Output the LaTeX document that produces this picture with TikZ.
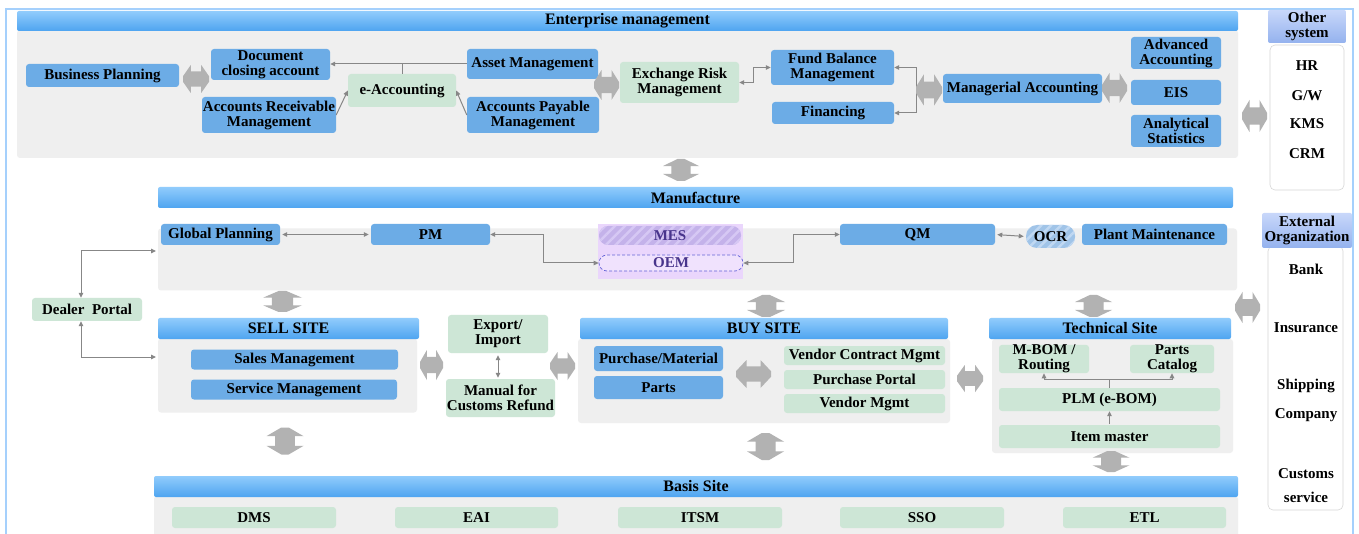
\documentclass[tikz,border=0pt]{standalone}
\usepackage{fontspec}
\setmainfont{Liberation Serif}
\usetikzlibrary{arrows.meta,patterns.meta,calc}
\definecolor{boxblue}{RGB}{108,172,230}
\definecolor{boxgreen}{RGB}{205,230,214}
\definecolor{panelgray}{RGB}{239,239,239}
\definecolor{bartop}{RGB}{145,204,252}
\definecolor{barbot}{RGB}{78,164,240}
\definecolor{bigarrow}{RGB}{178,178,178}
\definecolor{lncol}{RGB}{135,135,135}
\definecolor{frameblue}{RGB}{165,208,252}
\definecolor{hdrtop}{RGB}{200,215,250}
\definecolor{hdrbot}{RGB}{148,178,238}
\definecolor{lav}{RGB}{234,214,252}
\definecolor{mesfill}{RGB}{196,178,234}
\definecolor{meshatch}{RGB}{214,200,244}
\definecolor{oemfill}{RGB}{240,226,253}
\definecolor{oemline}{RGB}{100,100,215}
\definecolor{purtext}{RGB}{72,52,140}
\definecolor{ocrfill}{RGB}{160,196,232}
\definecolor{ocrhatch}{RGB}{192,216,242}
\definecolor{wboxline}{RGB}{215,215,215}

\newcommand{\hda}[4]{\fill[bigarrow,shift={(#1,#2)},xscale=#3,yscale=#4]
  (-0.5,-0.1) -- (-0.2,-0.5) -- (-0.2,-0.27) -- (0.2,-0.27) -- (0.2,-0.5) -- (0.5,-0.1) -- (0.5,0.1)
  -- (0.2,0.5) -- (0.2,0.27) -- (-0.2,0.27) -- (-0.2,0.5) -- (-0.5,0.1) -- cycle;}
\newcommand{\vda}[4]{\fill[bigarrow,shift={(#1,#2)},xscale=#3,yscale=#4]
  (-0.1,-0.5) -- (0.1,-0.5) -- (0.5,-0.18) -- (0.27,-0.18) -- (0.27,0.18) -- (0.5,0.18) -- (0.1,0.5)
  -- (-0.1,0.5) -- (-0.5,0.18) -- (-0.27,0.18) -- (-0.27,-0.18) -- (-0.5,-0.18) -- cycle;}

\begin{document}
\begin{tikzpicture}[x=1pt,y=-1pt,>={Triangle[length=5pt,width=4.5pt]},
  every node/.style={font=\fontsize{15}{15}\selectfont\bfseries, inner sep=0pt, align=center, text=black},
  bbox/.style={fill=boxblue, rounded corners=3pt},
  gbox/.style={fill=boxgreen, rounded corners=3pt},
  panel/.style={fill=panelgray, rounded corners=3pt},
  tbar/.style={top color=bartop, bottom color=barbot, rounded corners=2pt, font=\fontsize{16}{16}\selectfont\bfseries},
  hdr/.style={top color=hdrtop, bottom color=hdrbot, rounded corners=2pt},
  wbox/.style={fill=white, draw=wboxline, line width=0.6pt, rounded corners=5pt},
  plain/.style={},
  ln/.style={draw=lncol, line width=1pt},
  bi/.style={ln, <->},
  uni/.style={ln, ->},
  sz/.style 2 args={minimum width=#1, minimum height=#2},
]
\clip (0,0) rectangle (1359,534);
\fill[white] (0,0) rectangle (1359,534);
\draw[frameblue, line width=2.5pt] (6,9) rectangle (1353,560);

% ---------- Enterprise management ----------
\node[panel, sz={1221}{128}] (empanel) at (627.5,94) {};
\node[tbar, sz={1221}{20}] (emtitle) at (627.5,21) {Enterprise management};
\node[bbox, sz={153}{23}] (bp) at (102.5,75.5) {Business Planning};
\node[bbox, sz={119}{31}] (doc) at (270.5,64.5) {Document\\closing account};
\node[bbox, sz={134}{36}] (ar) at (269,115) {Accounts Receivable\\Management};
\node[gbox, sz={108}{33}] (eacc) at (402,90.5) {e-Accounting};
\node[bbox, sz={131}{30}] (asset) at (532.5,64) {Asset Management};
\node[bbox, sz={132}{36}] (ap) at (533,115) {Accounts Payable\\Management};
\node[gbox, sz={119}{41}] (exr) at (679.5,82.5) {Exchange Risk\\Management};
\node[bbox, sz={123}{35}] (fund) at (832.5,67.5) {Fund Balance\\Management};
\node[bbox, sz={122}{22}] (fin) at (833,113) {Financing};
\node[bbox, sz={159}{29}] (mgr) at (1022.5,88.5) {Managerial Accounting};
\node[bbox, sz={90}{32}] (adv) at (1176,53) {Advanced\\Accounting};
\node[bbox, sz={90}{25}] (eis) at (1176,92.5) {EIS};
\node[bbox, sz={90}{32}] (ana) at (1176,131) {Analytical\\Statistics};

\draw[uni] (asset.west) -- (asset.west -| doc.east);
\draw[ln] (eacc.north) -- (eacc.north |- asset.west);
\draw[uni] (ar.east) -- (eacc.west);
\draw[uni] (ap.west) -- (eacc.east);
\draw[bi] (exr.east) -- ++(14,0) |- (fund.west);
\draw[bi] (fund.east) -- ++(22,0) |- (fin.east);

\hda{196}{79}{26}{28}
\hda{606.5}{85}{25}{30}
\hda{929}{90}{26}{31}
\hda{1114.5}{88}{25}{30}
\hda{1254.5}{116}{25}{32}

% ---------- Other system ----------
\node[wbox, sz={74}{145}] (osbox) at (1307,117.5) {};
\node[hdr, sz={78}{33}] (oshdr) at (1307,26.5) {Other\\system};
\node (hr) at (1307,66) {HR};
\node (gw) at (1307,96) {G/W};
\node (kms) at (1307,124) {KMS};
\node (crm) at (1307,154) {CRM};

\vda{681}{170}{36}{22}

% ---------- Manufacture ----------
\node[panel, sz={1079}{62}] (mpanel) at (697.5,259.5) {};
\node[tbar, sz={1075}{21}] (mtitle) at (695.5,197.5) {Manufacture};
\node[bbox, sz={119}{21}] (gp) at (220.5,234.5) {Global Planning};
\node[bbox, sz={119}{21}] (pm) at (430.5,234.5) {PM};
\node[fill=lav, sz={145}{55}] (mesarea) at (670.5,251.5) {};
\node[fill=mesfill, rounded corners=9pt, sz={142}{19}, text=purtext,
      postaction={pattern={Lines[angle=45,distance=7pt,line width=2.5pt]}, pattern color=meshatch}] (mes) at (670,235.5) {MES};
\node[fill=oemfill, draw=oemline, densely dashed, line width=0.7pt, rounded corners=8pt, sz={144}{16}, text=purtext] (oem) at (671,263) {OEM};
\node[bbox, sz={155}{21}] (qm) at (917.5,234.5) {QM};
\node[fill=ocrfill, rounded corners=11pt, sz={49}{23},
      postaction={pattern={Lines[angle=45,distance=7pt,line width=2.5pt]}, pattern color=ocrhatch}] (ocr) at (1050.5,236.5) {OCR};
\node[bbox, sz={145}{21}] (plant) at (1154.5,234.5) {Plant Maintenance};

\draw[bi, shorten <=2pt, shorten >=2pt] (gp.east) -- (pm.west);
\draw[bi] (pm.east) -- ++(53,0) |- (oem.west);
\draw[bi] (oem.east) -- ++(50,0) |- (qm.west);
\draw[bi, shorten <=2pt, shorten >=2pt] (qm.east) -- (ocr.west);

% ---------- Dealer portal ----------
\node[gbox, sz={110}{23}] (dp) at (87,309.5) {Dealer\ \ Portal};
\coordinate (mIn) at (156,251);
\coordinate (sIn) at (156,357);
\draw[bi] ([xshift=-6pt]dp.north) |- (mIn);
\draw[bi] ([xshift=-6pt]dp.south) |- (sIn);

\vda{282.5}{301.5}{39}{21}
\vda{766}{306}{38}{22}
\vda{1093.5}{306}{37}{22}

% ---------- External organization ----------
\node[wbox, sz={75}{264}] (eobox) at (1305.5,378) {};
\node[hdr, sz={90}{35}] (eohdr) at (1307,230.5) {External\\Organization};
\node (bank) at (1306,269) {Bank};
\node (ins) at (1306,328) {Insurance};
\node (ship) at (1306,386) {Shipping};
\node (comp) at (1306,415) {Company};
\node (cust) at (1306,474) {Customs};
\node (serv) at (1306,497) {service};
\hda{1247.5}{307.5}{25}{31}

% ---------- Sell site ----------
\node[panel, sz={259}{74}] (spanel) at (287.5,375.5) {};
\node[tbar, sz={261}{21}] (stitle) at (288.5,328.5) {SELL SITE};
\node[bbox, sz={207}{20}] (sales) at (294.5,359.5) {Sales Management};
\node[bbox, sz={206}{20}] (service) at (294,389.5) {Service Management};

\hda{431.5}{365}{23}{30}
\node[gbox, sz={100}{38}] (exim) at (498,334) {Export/\\Import};
\node[gbox, sz={109}{38}] (manual) at (500.5,398) {Manual for\\Customs Refund};
\draw[bi, shorten <=2pt, shorten >=1pt] (exim.south) -- (exim.south |- manual.north);
\hda{562.5}{366}{25}{28}

% ---------- Buy site ----------
\node[panel, sz={372}{84}] (bpanel) at (764,381) {};
\node[tbar, sz={368}{21}] (btitle) at (764,328.5) {BUY SITE};
\node[bbox, sz={129}{25}] (purm) at (658.5,358.5) {Purchase/Material};
\node[bbox, sz={129}{23}] (parts) at (658.5,387.5) {Parts};
\hda{753.5}{374}{35}{28}
\node[gbox, sz={161}{19}] (vcm) at (864.5,355.5) {Vendor Contract Mgmt};
\node[gbox, sz={161}{19}] (ppo) at (864.5,379.5) {Purchase Portal};
\node[gbox, sz={161}{19}] (vm) at (864.5,403.5) {Vendor Mgmt};
\hda{970}{378.5}{26}{27}

% ---------- Technical site ----------
\node[panel, sz={241}{114}] (tpanel) at (1112.5,396) {};
\node[tbar, sz={242}{21}] (ttitle) at (1110,328.5) {Technical Site};
\node[gbox, sz={90}{28}] (mbom) at (1044,359) {M-BOM /\\Routing};
\node[gbox, sz={84}{28}] (pcat) at (1172,359) {Parts\\Catalog};
\node[gbox, sz={221}{23}] (plm) at (1109.5,399.5) {PLM (e-BOM)};
\node[gbox, sz={221}{23}] (item) at (1109.5,436.5) {Item master};
\coordinate (tj) at ($(plm.north)+(0,-8)$);
\draw[ln] (plm.north) -- (tj);
\draw[uni] (tj) -| (mbom.south);
\draw[uni] (tj) -| (pcat.south);
\draw[uni, shorten <=1pt] (item.north) -- (plm.south);

\vda{285}{441}{37}{27}
\vda{765.5}{446.5}{37}{27}
\vda{1111}{461.5}{37}{21}

% ---------- Basis site ----------
\node[panel, sz={1084}{48}] (bapanel) at (696,520) {};
\node[tbar, sz={1084}{21}] (batitle) at (696,486.5) {Basis Site};
\node[gbox, sz={164}{21}] (dms) at (254,517.5) {DMS};
\node[gbox, sz={163}{21}] (eai) at (476.5,517.5) {EAI};
\node[gbox, sz={164}{21}] (itsm) at (700,517.5) {ITSM};
\node[gbox, sz={164}{21}] (sso) at (922,517.5) {SSO};
\node[gbox, sz={163}{21}] (etl) at (1144.5,517.5) {ETL};
\end{tikzpicture}
\end{document}
